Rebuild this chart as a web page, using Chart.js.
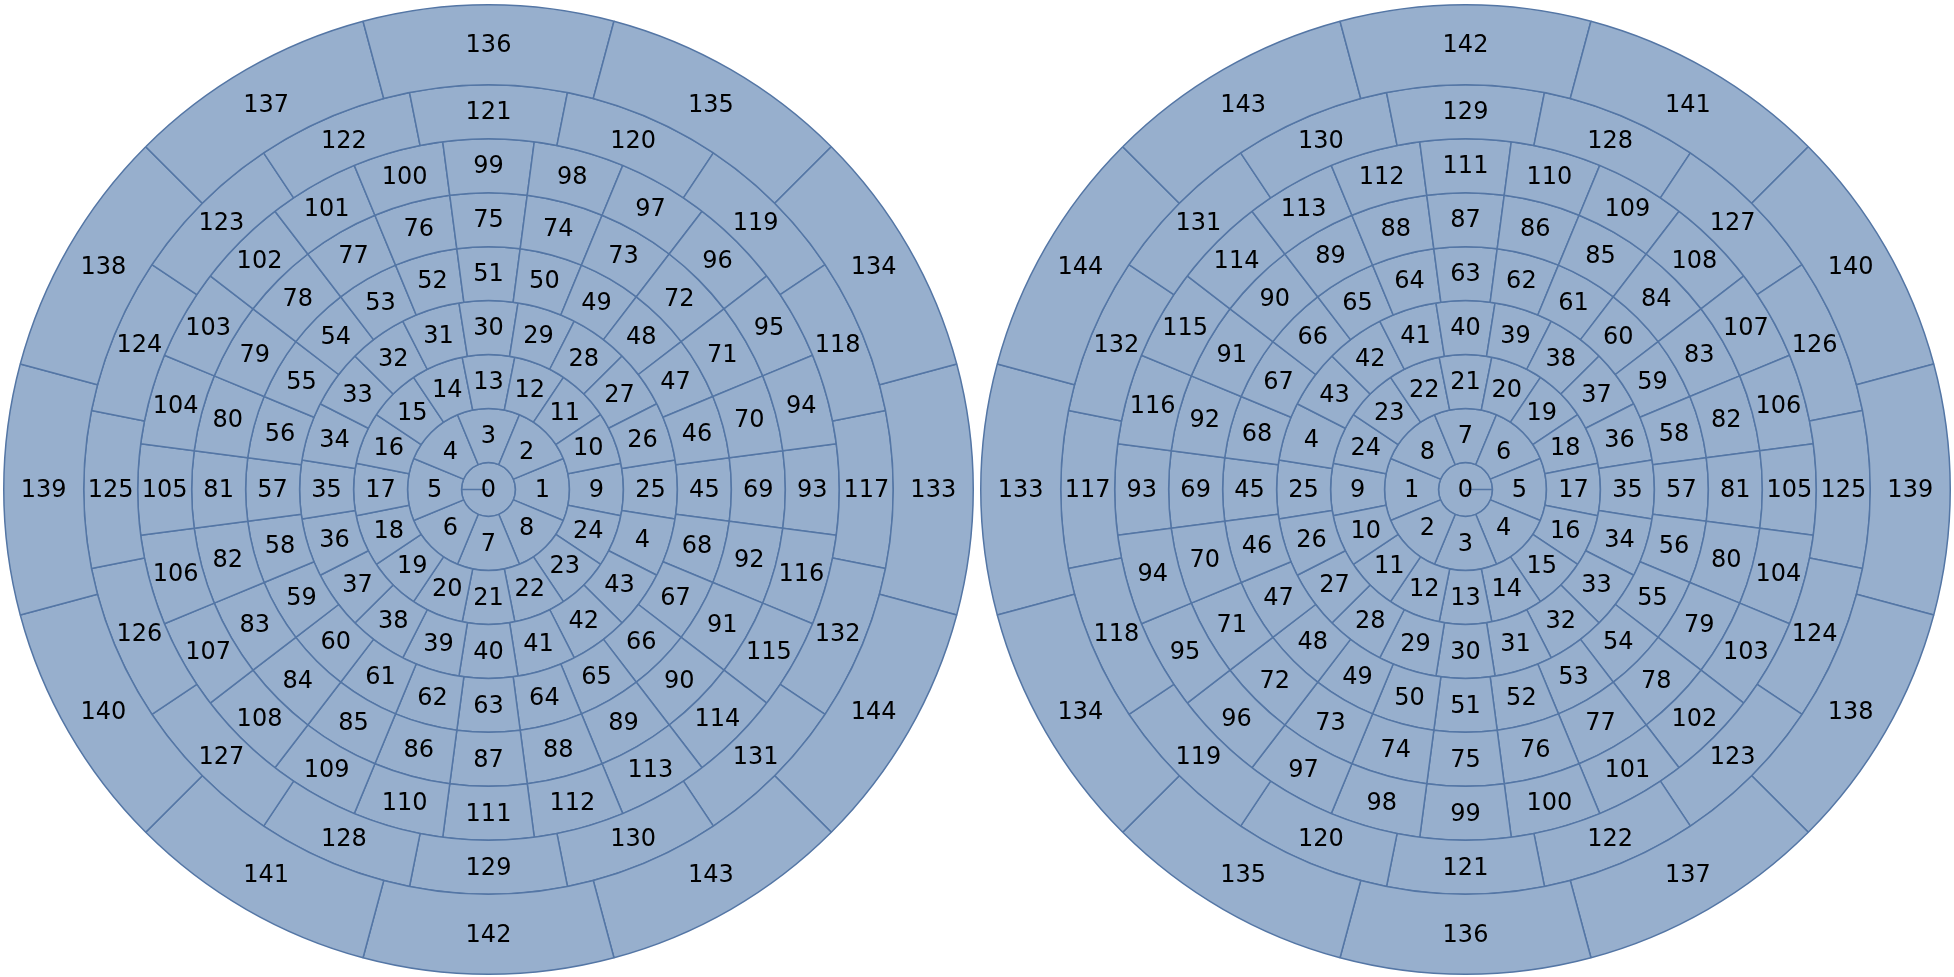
<!DOCTYPE html>
<html>
<head>
<meta charset="utf-8">
<script src="https://cdn.jsdelivr.net/npm/chart.js@4.4.1/dist/chart.umd.min.js"></script>
<style>
  html, body { margin: 0; padding: 0; background: #ffffff; width: 1954px; height: 977px; overflow: hidden; }
  .box { position: absolute; top: 0; width: 977px; height: 977px; }
  #leftBox { left: 0; }
  #rightBox { left: 977px; }
</style>
</head>
<body>
<div class="box" id="leftBox"><canvas id="leftChart" width="977" height="977"></canvas></div>
<div class="box" id="rightBox"><canvas id="rightChart" width="977" height="977"></canvas></div>
<script>
// ---- data: cell labels of each ring, listed counter-clockwise from the first cell ----
const ring0 = ['0'];
const ring1 = ['1','2','3','4','5','6','7','8'];
const ring2 = ['9','10','11','12','13','14','15','16','17','18','19','20','21','22','23','24'];
const ring3 = ['25','26','27','28','29','30','31','32','33','34','35','36','37','38','39','40','41','42','43','4'];
const ring4 = ['45','46','47','48','49','50','51','52','53','54','55','56','57','58','59','60','61','62','63','64','65','66','67','68'];
const ring5 = ['69','70','71','72','73','74','75','76','77','78','79','80','81','82','83','84','85','86','87','88','89','90','91','92'];
const ring6 = ['93','94','95','96','97','98','99','100','101','102','103','104','105','106','107','108','109','110','111','112','113','114','115','116'];
const ring7 = ['117','118','119','120','121','122','123','124','125','126','127','128','129','130','131','132'];
const ring8 = ['133','134','135','136','137','138','139','140','141','142','143','144'];

// rings from outermost to innermost (Chart.js draws dataset 0 outermost)
const rings = [ring8, ring7, ring6, ring5, ring4, ring3, ring2, ring1, ring0];
// relative ring thickness (outer ring wider, centre disc half width)
const ringWeights = [80, 54, 54, 54, 54, 54, 54, 54, 27];
// direction of the first cell of every ring, degrees clockwise from 12 o'clock
const leftStart = 90;   // first cell at 3 o'clock
const rightStart = 270; // first cell at 9 o'clock

const FILL = '#97afcd';
const LINE = '#5476a5';

function buildDatasets(startDeg) {
  return rings.map((labels, k) => {
    const n = labels.length;
    // Chart.js runs slices clockwise; numbering runs counter-clockwise
    const ordered = [labels[0]].concat(labels.slice(1).reverse());
    return {
      data: labels.map(() => 1),
      cellLabels: ordered,
      weight: ringWeights[k],
      rotation: startDeg - 180 / n,
      backgroundColor: FILL,
      borderColor: LINE,
      borderWidth: 1.5,
      hoverBorderWidth: 1.5,
      hoverOffset: 0,
      offset: 0,
      borderAlign: 'center'
    };
  });
}

const labelPlugin = {
  id: 'cellLabels',
  afterDatasetsDraw(chart) {
    const ctx = chart.ctx;
    ctx.save();
    ctx.font = '24px "DejaVu Sans"';
    ctx.fillStyle = '#000000';
    ctx.textAlign = 'center';
    ctx.textBaseline = 'middle';
    chart.data.datasets.forEach((ds, di) => {
      const meta = chart.getDatasetMeta(di);
      meta.data.forEach((arc, i) => {
        const p = arc.getProps(['x', 'y', 'startAngle', 'endAngle', 'innerRadius', 'outerRadius'], true);
        let x = p.x, y = p.y;
        const span = p.endAngle - p.startAngle;
        if (p.innerRadius > 0.5 || span < 6.28) {
          const a = (p.startAngle + p.endAngle) / 2;
          const r = (p.innerRadius + p.outerRadius) / 2;
          x += Math.cos(a) * r;
          y += Math.sin(a) * r;
        }
        ctx.fillText(ds.cellLabels[i], x, y + 1);
      });
    });
    ctx.restore();
  }
};

function makeChart(id, startDeg) {
  return new Chart(document.getElementById(id), {
    type: 'doughnut',
    data: { labels: ring8, datasets: buildDatasets(startDeg) },
    options: {
      responsive: false,
      animation: false,
      events: [],
      cutout: 0,
      layout: { padding: { left: 3, right: 3, top: 4, bottom: 2 } },
      plugins: { legend: { display: false }, tooltip: { enabled: false } }
    },
    plugins: [labelPlugin]
  });
}

makeChart('leftChart', leftStart);
makeChart('rightChart', rightStart);
</script>
</body>
</html>
